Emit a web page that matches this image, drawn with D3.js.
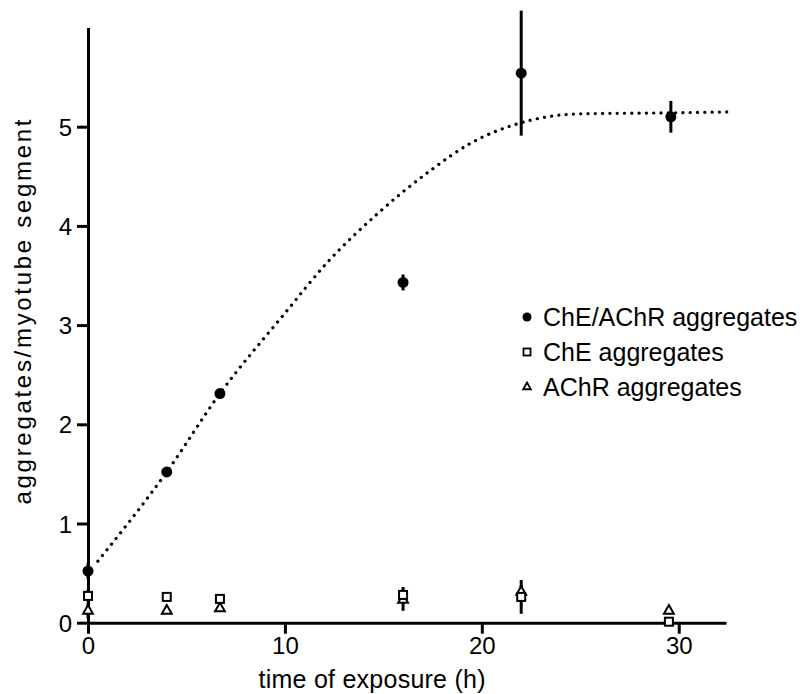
<!DOCTYPE html>
<html>
<head>
<meta charset="utf-8">
<script src="https://cdn.jsdelivr.net/npm/d3@7"></script>
<style>
  html, body { margin: 0; padding: 0; background: #fff; }
  svg text { font-family: "Liberation Sans", Arial, sans-serif; fill: #000; }
</style>
</head>
<body>
<div id="chart"></div>
<script>
// values
const xTicks = [0, 10, 20, 30];
const yTicks = [0, 1, 2, 3, 4, 5];

const mainTime = [0, 4, 6.7, 16, 22, 29.6];
const mainMean = [0.52, 1.52, 2.31, 3.43, 5.54, 5.10];
const mainErr = [0.08, 0.03, 0.03, 0.08, 0.63, 0.16];

const cheTime = [0, 4, 6.7, 16, 22, 29.5];
const cheMean = [0.27, 0.26, 0.24, 0.28, 0.26, 0.01];
const cheErr = [0.06, 0, 0, 0.08, 0.17, 0];

const achrTime = [0, 4, 6.7, 16, 22, 29.5];
const achrMean = [0.12, 0.12, 0.145, 0.23, 0.31, 0.12];
const achrErr = [0.08, 0, 0, 0.11, 0.07, 0];

// dotted fitted curve
const fitX = [0.5, 4, 6.7, 10, 12.1, 14.8, 17.4, 19.4, 22, 25, 29.6, 32.7];
const fitY = [0.62, 1.52, 2.31, 3.12, 3.62, 4.14, 4.56, 4.83, 5.04, 5.13, 5.14, 5.15];

const legendLabels = ["ChE/AChR aggregates", "ChE aggregates", "AChR aggregates"];

const width = 806, height = 694;

const svg = d3.select("#chart")
    .append("svg")
    .attr("width", width)
    .attr("height", height);

const x = d3.scaleLinear().domain([0, 32.4]).range([88, 726]);
const y = d3.scaleLinear().domain([0, 6]).range([622.7, 27.5]);

// axes
const xAxis = svg.append("g")
    .attr("transform", `translate(0, ${y(0)})`)
    .call(d3.axisBottom(x).tickValues(xTicks).tickFormat(d3.format("d"))
        .tickSize(11).tickPadding(3).tickSizeOuter(0));
const yAxis = svg.append("g")
    .attr("transform", `translate(${x(0)}, 0)`)
    .call(d3.axisLeft(y).tickValues(yTicks).tickFormat(d3.format("d"))
        .tickSize(11).tickPadding(5).tickSizeOuter(0));

[xAxis, yAxis].forEach(g => {
    g.select(".domain").attr("stroke", "#000").attr("stroke-width", 3);
    g.selectAll(".tick line").attr("stroke", "#000").attr("stroke-width", 3);
    g.selectAll(".tick text")
        .style("font-size", "24px")
        .style("font-family", "'Liberation Sans', Arial, sans-serif")
        .attr("fill", "#000");
});
xAxis.selectAll(".tick text").attr("dy", "0.72em");
yAxis.selectAll(".tick text").attr("dy", "0.36em");

svg.append("text")
    .attr("x", 372)
    .attr("y", 688)
    .attr("text-anchor", "middle")
    .attr("textLength", 227)
    .attr("lengthAdjust", "spacing")
    .style("font-size", "25px")
    .text("time of exposure (h)");

svg.append("text")
    .attr("transform", "translate(31, 312) rotate(-90)")
    .attr("text-anchor", "middle")
    .attr("textLength", 385)
    .attr("lengthAdjust", "spacing")
    .style("font-size", "24px")
    .text("aggregates/myotube segment");

// fitted curve
const fitData = fitX.map((t, i) => ({ t: t, v: fitY[i] }));
svg.append("path")
    .datum(fitData)
    .attr("fill", "none")
    .attr("stroke", "#000")
    .attr("stroke-width", 3.2)
    .attr("stroke-linecap", "round")
    .attr("stroke-dasharray", "0.1,7.2")
    .attr("d", d3.line().x(d => x(d.t)).y(d => y(d.v)).curve(d3.curveMonotoneX));

function makeSeries(times, means, errs) {
    return times.map((t, i) => ({ t: t, v: means[i], e: errs[i] }));
}
const mainData = makeSeries(mainTime, mainMean, mainErr);
const cheData = makeSeries(cheTime, cheMean, cheErr);
const achrData = makeSeries(achrTime, achrMean, achrErr);

// error bars
function drawErr(data) {
    svg.append("g").selectAll("line")
        .data(data.filter(d => d.e > 0))
        .enter()
        .append("line")
        .attr("x1", d => x(d.t))
        .attr("x2", d => x(d.t))
        .attr("y1", d => y(d.v - d.e))
        .attr("y2", d => y(d.v + d.e))
        .attr("stroke", "#000")
        .attr("stroke-width", 3);
}
drawErr(cheData);
drawErr(achrData);
drawErr(mainData);

const triangle = d3.symbol().type(d3.symbolTriangle);

// AChR triangles
svg.append("g").selectAll("path")
    .data(achrData)
    .enter()
    .append("path")
    .attr("transform", d => `translate(${x(d.t)}, ${y(d.v)})`)
    .attr("d", triangle.size(42)())
    .attr("fill", "#fff")
    .attr("stroke", "#000")
    .attr("stroke-width", 2);

// ChE squares
svg.append("g").selectAll("rect")
    .data(cheData)
    .enter()
    .append("rect")
    .attr("x", d => x(d.t) - 4)
    .attr("y", d => y(d.v) - 4)
    .attr("width", 8)
    .attr("height", 8)
    .attr("fill", "#fff")
    .attr("stroke", "#000")
    .attr("stroke-width", 2);

// ChE/AChR filled circles
svg.append("g").selectAll("circle")
    .data(mainData)
    .enter()
    .append("circle")
    .attr("cx", d => x(d.t))
    .attr("cy", d => y(d.v))
    .attr("r", 5.5)
    .attr("fill", "#000");

// legend
const legend = svg.append("g").attr("transform", "translate(527, 317)");
legendLabels.forEach((label, i) => {
    const row = legend.append("g").attr("transform", `translate(0, ${i * 35})`);
    if (i === 0) {
        row.append("circle").attr("r", 4.5).attr("fill", "#000");
    } else if (i === 1) {
        row.append("rect").attr("x", -3.5).attr("y", -3.5).attr("width", 7).attr("height", 7)
            .attr("fill", "#fff").attr("stroke", "#000").attr("stroke-width", 1.8);
    } else {
        row.append("path").attr("d", triangle.size(26)())
            .attr("fill", "#fff").attr("stroke", "#000").attr("stroke-width", 1.8);
    }
    row.append("text")
        .attr("x", 16)
        .attr("y", 9)
        .style("font-size", "25px")
        .text(label);
});
</script>
</body>
</html>
